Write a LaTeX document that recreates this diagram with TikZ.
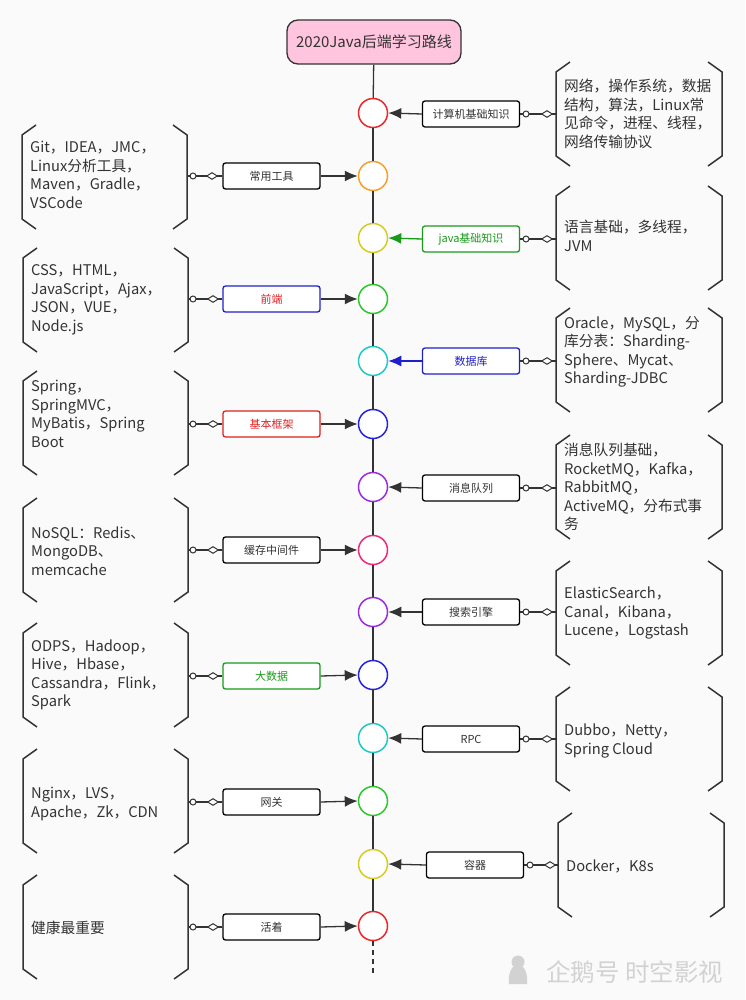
\documentclass[tikz,border=0pt]{standalone}
\usepackage{fontspec}
\setmainfont{Noto Sans CJK SC}
\usetikzlibrary{arrows.meta,shapes.geometric}
\definecolor{ink}{HTML}{333333}
\definecolor{bg}{HTML}{FAFAFA}
\definecolor{cred}{HTML}{E8282A}
\definecolor{corange}{HTML}{F5A02A}
\definecolor{cyellow}{HTML}{D6CC1E}
\definecolor{cgreen}{HTML}{2DC62D}
\definecolor{ccyan}{HTML}{1FC8C8}
\definecolor{cblue}{HTML}{2424E0}
\definecolor{cpurple}{HTML}{9A2BE0}
\definecolor{cpink}{HTML}{F0287A}
\definecolor{dgreen}{HTML}{1A9A1A}
\definecolor{dblue}{HTML}{1F1FCC}
\definecolor{dred}{HTML}{E02020}
\definecolor{pinkfill}{HTML}{FFC4DE}
\definecolor{wm}{HTML}{D2D2D2}
\tikzset{
  stage/.style={circle,draw,line width=1.5pt,fill=white,minimum size=29pt,inner sep=0pt},
  lbl/.style={draw=black,line width=1.3pt,rounded corners=2.5pt,fill=white,minimum width=97pt,minimum height=26pt,inner sep=0pt,font=\fontsize{11}{13}\selectfont,text=ink},
  conn/.style={draw=ink,line width=1.3pt},
  tip/.style={-{Latex[length=13pt,width=11pt]}},
  oc/.style={circle,draw=ink,line width=1pt,fill=white,minimum size=6pt,inner sep=0pt},
  od/.style={diamond,draw=ink,line width=1pt,fill=white,minimum width=11pt,minimum height=7pt,inner sep=0pt},
  brk/.style={draw=ink,line width=1.5pt},
  txt/.style={anchor=west,align=left,text=ink,inner sep=0pt,font=\fontsize{14.7}{18.5}\selectfont},
}
\newcommand{\bracketpair}[3]{%
  \draw[brk] (#1+14,#3-52) -- (#1,#3-42) -- (#1,#3+42) -- (#1+14,#3+52);
  \draw[brk] (#2-14,#3-52) -- (#2,#3-42) -- (#2,#3+42) -- (#2-14,#3+52);}
\begin{document}
\begin{tikzpicture}[x=1pt,y=-1pt]
\fill[bg] (0,0) rectangle (745,1000);
\useasboundingbox (0,0) rectangle (745,1000);

% title
\node[draw=ink,line width=1.3pt,fill=pinkfill,rounded corners=11pt,minimum width=174pt,minimum height=44pt,inner sep=0pt,font=\fontsize{15}{18}\selectfont,text=ink] (t) at (374,42) {2020Java后端学习路线};

% stages
\node[stage,draw=cred] (c1) at (373,113) {};
\node[stage,draw=corange] (c2) at (373,176) {};
\node[stage,draw=cyellow] (c3) at (373,238) {};
\node[stage,draw=cgreen] (c4) at (373,299) {};
\node[stage,draw=ccyan] (c5) at (373,361) {};
\node[stage,draw=cblue] (c6) at (373,424) {};
\node[stage,draw=cpurple] (c7) at (373,487) {};
\node[stage,draw=cpink] (c8) at (373,550) {};
\node[stage,draw=cpurple] (c9) at (373,612) {};
\node[stage,draw=cblue] (c10) at (373,675) {};
\node[stage,draw=ccyan] (c11) at (373,738) {};
\node[stage,draw=cgreen] (c12) at (373,801) {};
\node[stage,draw=cyellow] (c13) at (373,864) {};
\node[stage,draw=cred] (c14) at (373,926) {};
\coordinate (tail) at (373,976);

% spine
\draw[conn] (t) -- (c1);
\draw[conn] (c1) -- (c2);
\draw[conn] (c2) -- (c3);
\draw[conn] (c3) -- (c4);
\draw[conn] (c4) -- (c5);
\draw[conn] (c5) -- (c6);
\draw[conn] (c6) -- (c7);
\draw[conn] (c7) -- (c8);
\draw[conn] (c8) -- (c9);
\draw[conn] (c9) -- (c10);
\draw[conn] (c10) -- (c11);
\draw[conn] (c11) -- (c12);
\draw[conn] (c12) -- (c13);
\draw[conn] (c13) -- (c14);
\draw[conn,dash pattern=on 5pt off 4pt] (c14) -- (tail);

% ---------- right side ----------
% 1
\node[lbl] (b1) at (471,114) {计算机基础知识};
\coordinate (k1) at (556,114);
\draw[conn,tip] (b1.west) -- (c1.east);
\draw[conn] (b1.east) -- (k1);
\node[oc] (o1) at (526,114) {};
\node[od] (d1) at (547,114) {};
\bracketpair{556}{722}{114}
\node[txt] (x1) at (564,114) {网络，操作系统，数据\\结构，算法，Linux常\\见命令，进程、线程，\\网络传输协议};

% 3 java
\node[lbl,draw=dgreen,text=dgreen] (b3) at (471,239) {java基础知识};
\coordinate (k3) at (556,239);
\draw[conn,tip,draw=dgreen,fill=dgreen] (b3.west) -- (c3.east);
\draw[conn] (b3.east) -- (k3);
\node[oc] (o3) at (526,239) {};
\node[od] (d3) at (547,239) {};
\bracketpair{556}{722}{238}
\node[txt] (x3) at (564,236) {语言基础，多线程，\\JVM};

% 5 db
\node[lbl,draw=dblue,text=dblue] (b5) at (471,361) {数据库};
\coordinate (k5) at (556,361);
\draw[conn,tip,draw=dblue,fill=dblue] (b5.west) -- (c5.east);
\draw[conn] (b5.east) -- (k5);
\node[oc] (o5) at (526,361) {};
\node[od] (d5) at (547,361) {};
\bracketpair{556}{722}{360}
\node[txt] (x5) at (564,352) {Oracle，MySQL，分\\库分表：Sharding-\\Sphere、Mycat、\\Sharding-JDBC};

% 7 mq
\node[lbl] (b7) at (471,488) {消息队列};
\coordinate (k7) at (556,488);
\draw[conn,tip] (b7.west) -- (c7.east);
\draw[conn] (b7.east) -- (k7);
\node[oc] (o7) at (526,488) {};
\node[od] (d7) at (547,488) {};
\bracketpair{556}{722}{487}
\node[txt] (x7) at (564,487) {消息队列基础，\\RocketMQ，Kafka，\\RabbitMQ，\\ActiveMQ，分布式事\\务};

% 9 search
\node[lbl] (b9) at (471,612) {搜索引擎};
\coordinate (k9) at (556,612);
\draw[conn,tip] (b9.west) -- (c9.east);
\draw[conn] (b9.east) -- (k9);
\node[oc] (o9) at (526,612) {};
\node[od] (d9) at (547,612) {};
\bracketpair{556}{722}{613}
\node[txt] (x9) at (564,613) {ElasticSearch，\\Canal，Kibana，\\Lucene，Logstash};

% 11 rpc
\node[lbl] (b11) at (471,739) {RPC};
\coordinate (k11) at (556,739);
\draw[conn,tip] (b11.west) -- (c11.east);
\draw[conn] (b11.east) -- (k11);
\node[oc] (o11) at (526,739) {};
\node[od] (d11) at (547,739) {};
\bracketpair{556}{722}{739}
\node[txt] (x11) at (564,741) {Dubbo，Netty，\\Spring Cloud};

% 13 container
\node[lbl] (b13) at (475,865) {容器};
\coordinate (k13) at (558,865);
\draw[conn,tip] (b13.west) -- (c13.east);
\draw[conn] (b13.east) -- (k13);
\node[oc] (o13) at (530,865) {};
\node[od] (d13) at (550,865) {};
\bracketpair{558}{724}{865}
\node[txt] (x13) at (566,866) {Docker，K8s};

% ---------- left side ----------
% 2 tools
\node[lbl] (b2) at (271.5,176) {常用工具};
\coordinate (k2) at (187,176);
\draw[conn,tip] (b2.east) -- (c2.west);
\draw[conn] (b2.west) -- (k2);
\node[oc] (o2) at (193,176) {};
\node[od] (d2) at (212,176) {};
\bracketpair{22}{187}{177}
\node[txt] (x2) at (30,175) {Git，IDEA，JMC，\\Linux分析工具，\\Maven，Gradle，\\VSCode};

% 4 frontend
\node[lbl,draw=dblue,text=dred] (b4) at (271.5,299) {前端};
\coordinate (k4) at (188,299);
\draw[conn,tip] (b4.east) -- (c4.west);
\draw[conn] (b4.west) -- (k4);
\node[oc] (o4) at (193,299) {};
\node[od] (d4) at (213,299) {};
\bracketpair{23}{188}{300}
\node[txt] (x4) at (31,300) {CSS，HTML，\\JavaScript，Ajax，\\JSON，VUE，\\Node.js};

% 6 framework
\node[lbl,draw=dred,text=dred] (b6) at (271.5,424) {基本框架};
\coordinate (k6) at (188,424);
\draw[conn,tip] (b6.east) -- (c6.west);
\draw[conn] (b6.west) -- (k6);
\node[oc] (o6) at (193,424) {};
\node[od] (d6) at (213,424) {};
\bracketpair{23}{188}{423}
\node[txt] (x6) at (31,414) {Spring，\\SpringMVC，\\MyBatis，Spring\\Boot};

% 8 cache
\node[lbl] (b8) at (271.5,550) {缓存中间件};
\coordinate (k8) at (188,550);
\draw[conn,tip] (b8.east) -- (c8.west);
\draw[conn] (b8.west) -- (k8);
\node[oc] (o8) at (193,550) {};
\node[od] (d8) at (213,550) {};
\bracketpair{23}{188}{550}
\node[txt] (x8) at (31,551) {NoSQL：Redis、\\MongoDB、\\memcache};

% 10 bigdata
\node[lbl,draw=dgreen,text=dgreen] (b10) at (271.5,676) {大数据};
\coordinate (k10) at (188,676);
\draw[conn,tip] (b10.east) -- (c10.west);
\draw[conn] (b10.west) -- (k10);
\node[oc] (o10) at (193,676) {};
\node[od] (d10) at (213,676) {};
\bracketpair{23}{188}{675}
\node[txt] (x10) at (31,675) {ODPS，Hadoop，\\Hive，Hbase，\\Cassandra，Flink，\\Spark};

% 12 gateway
\node[lbl] (b12) at (271.5,802) {网关};
\coordinate (k12) at (188,802);
\draw[conn,tip] (b12.east) -- (c12.west);
\draw[conn] (b12.west) -- (k12);
\node[oc] (o12) at (193,802) {};
\node[od] (d12) at (213,802) {};
\bracketpair{23}{188}{801}
\node[txt] (x12) at (31,804) {Nginx，LVS，\\Apache，Zk，CDN};

% 14 alive
\node[lbl] (b14) at (271.5,927) {活着};
\coordinate (k14) at (188,927);
\draw[conn,tip] (b14.east) -- (c14.west);
\draw[conn] (b14.west) -- (k14);
\node[oc] (o14) at (193,927) {};
\node[od] (d14) at (213,927) {};
\bracketpair{23}{188}{927}
\node[txt] (x14) at (31,928) {健康最重要};

% watermark
\fill[wm] (518,962) circle (6.5);
\fill[wm] (509,984) .. controls (508,972) and (512,965) .. (518,965) .. controls (524,965) and (528,972) .. (527,984) -- cycle;
\node[anchor=west,inner sep=0pt,text=wm,font=\fontsize{24.5}{27}\selectfont] (wmt) at (546,972) {企鹅号 时空影视};
\end{tikzpicture}
\end{document}
